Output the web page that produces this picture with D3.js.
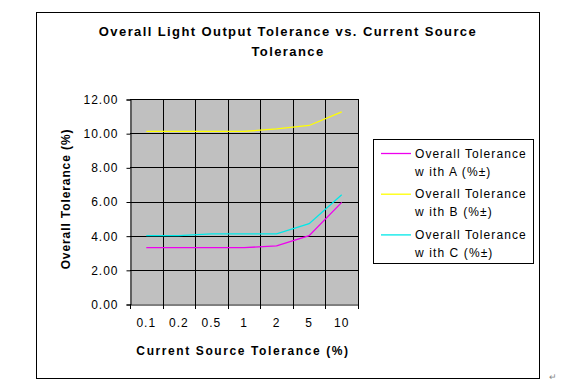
<!DOCTYPE html>
<html>
<head>
<meta charset="utf-8">
<script src="https://cdn.jsdelivr.net/npm/d3@7"></script>
<style>
  html, body { margin: 0; padding: 0; background: #fff; }
  svg { display: block; font-family: "Liberation Sans", Arial, sans-serif; }
</style>
</head>
<body>
<svg id="chart" width="586" height="382"></svg>
<script>
const categories = ["0.1", "0.2", "0.5", "1", "2", "5", "10"];
const seriesA = [3.3, 3.3, 3.3, 3.3, 3.4, 4.0, 5.95];
const seriesB = [10.1, 10.1, 10.1, 10.1, 10.25, 10.45, 11.25];
const seriesC = [4.0, 4.0, 4.1, 4.1, 4.1, 4.7, 6.4];
const yTicks = [0, 2, 4, 6, 8, 10, 12];
const seriesNames = ["Overall Tolerance|w ith A (%±)", "Overall Tolerance|w ith B (%±)", "Overall Tolerance|w ith C (%±)"];
const seriesColors = ["#ee00ee", "#ffff00", "#00e8e8"];
const titleLines = ["Overall Light Output Tolerance vs. Current Source", "Tolerance"];
const xTitle = "Current Source Tolerance (%)";
const yTitle = "Overall Tolerance (%)";

const svg = d3.select("#chart");

// outer border
svg.append("rect").attr("x", 36.5).attr("y", 12.5).attr("width", 503).attr("height", 366)
  .attr("fill", "none").attr("stroke", "#000").attr("stroke-width", 1);

// title
svg.append("g").selectAll("text").data(titleLines).join("text")
  .attr("x", 288).attr("y", (d, i) => 36 + i * 20)
  .attr("text-anchor", "middle").attr("font-weight", "bold").attr("font-size", 13)
  .attr("letter-spacing", 1.4).attr("fill", "#000").text(d => d);

const x = d3.scaleBand().domain(categories).range([130, 358]).padding(0);
const y = d3.scaleLinear().domain([0, 12]).range([304, 99]);

// plot background
svg.append("rect").attr("x", 130).attr("y", y(12)).attr("width", 228).attr("height", y(0) - y(12))
  .attr("fill", "#c0c0c0");

// horizontal gridlines
svg.append("g").selectAll("line").data(yTicks.filter(d => d > 0)).join("line")
  .attr("x1", 130).attr("x2", 358)
  .attr("y1", d => Math.round(y(d)) + 0.5).attr("y2", d => Math.round(y(d)) + 0.5)
  .attr("stroke", "#000").attr("stroke-width", 1);

// vertical gridlines at category boundaries
const bounds = categories.map(c => x(c)).concat([x.range()[1]]);
svg.append("g").selectAll("line").data(bounds.slice(1)).join("line")
  .attr("x1", d => Math.round(d) + 0.5).attr("x2", d => Math.round(d) + 0.5)
  .attr("y1", y(12)).attr("y2", y(0))
  .attr("stroke", "#000").attr("stroke-width", 1);

// y axis
const yAxis = d3.axisLeft(y).tickValues(yTicks).tickFormat(d3.format(".2f")).tickSize(4).tickPadding(8);
const gy = svg.append("g").attr("transform", "translate(130.5,0.5)").call(yAxis);
gy.select(".domain").attr("stroke", "#000");
gy.selectAll(".tick line").attr("stroke", "#000");
gy.selectAll("text").attr("font-size", 12).attr("letter-spacing", 1).attr("fill", "#000")
  .attr("font-family", "Liberation Sans, Arial, sans-serif");

// x axis
const xAxis = d3.axisBottom(x).tickSize(0).tickPadding(14);
const gx = svg.append("g").attr("transform", "translate(0,304.5)").call(xAxis);
gx.select(".domain").attr("stroke", "#000");
gx.selectAll("text").attr("font-size", 12).attr("letter-spacing", 1).attr("fill", "#000")
  .attr("font-family", "Liberation Sans, Arial, sans-serif");
svg.append("g").selectAll("line").data(bounds).join("line")
  .attr("x1", d => Math.round(d) + 0.5).attr("x2", d => Math.round(d) + 0.5)
  .attr("y1", 304).attr("y2", 309).attr("stroke", "#000");

// series lines
const line = d3.line().x((d, i) => x(categories[i]) + x.bandwidth() / 2).y(d => y(d));
[seriesA, seriesB, seriesC].forEach((s, k) => {
  svg.append("path").datum(s).attr("d", line).attr("fill", "none")
    .attr("stroke", seriesColors[k]).attr("stroke-width", 1.3);
});

// axis titles
svg.append("text").attr("x", 243).attr("y", 355).attr("text-anchor", "middle")
  .attr("font-weight", "bold").attr("font-size", 12).attr("letter-spacing", 1.6).text(xTitle);
svg.append("text").attr("transform", "translate(70,199) rotate(-90)").attr("text-anchor", "middle")
  .attr("font-weight", "bold").attr("font-size", 12).attr("letter-spacing", 0.9).text(yTitle);

// legend
const lg = svg.append("g");
lg.append("rect").attr("x", 373.5).attr("y", 139.5).attr("width", 160).attr("height", 124)
  .attr("fill", "#fff").attr("stroke", "#000");
seriesNames.forEach((n, k) => {
  const ty = 153 + k * 40.7;
  lg.append("line").attr("x1", 381).attr("x2", 411).attr("y1", ty + 0.5).attr("y2", ty + 0.5)
    .attr("stroke", seriesColors[k]).attr("stroke-width", 1.3);
  n.split("|").forEach((t, j) => {
    lg.append("text").attr("x", 415).attr("y", ty + 4.5 + j * 18).attr("font-size", 12)
      .attr("letter-spacing", 1.1).attr("fill", "#000").text(t);
  });
});

// paragraph mark
svg.append("text").attr("x", 549).attr("y", 380).attr("font-size", 9).attr("fill", "#888").text("↵");
</script>
</body>
</html>
